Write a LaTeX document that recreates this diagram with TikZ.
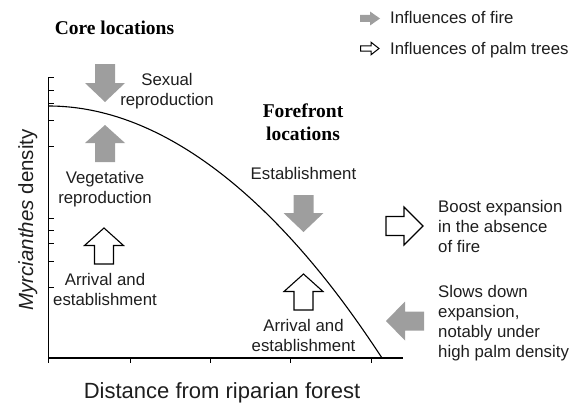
\documentclass[tikz,border=0pt]{standalone}
\usepackage{fontspec}
\setmainfont{Liberation Sans}
\newfontfamily\timesfont{Liberation Serif}
\definecolor{firegray}{RGB}{158,158,158}
\definecolor{inkgray}{RGB}{30,30,30}
\tikzset{
  pics/barr/.style n args={4}{code={%
    \path[pic actions] (0,-#3) -- (#1-#2,-#3) -- (#1-#2,-#4) -- (#1,0) -- (#1-#2,#4) -- (#1-#2,#3) -- (0,#3) -- cycle;}},
  axisline/.style={line width=1.1pt, line join=miter},
  tickline/.style={line width=0.9pt},
  curveline/.style={line width=1.1pt},
  fire/.style={fill=firegray, draw=none},
  palm/.style={fill=white, draw=black, line width=1.1pt, line join=miter},
  txt/.style={inner sep=0pt, align=center, text=inkgray, font=\fontsize{16.8}{20}\selectfont},
  txtl/.style={txt, align=left},
  headtxt/.style={inner sep=0pt, align=center, text=black, font=\timesfont\bfseries\fontsize{19.5}{23}\selectfont},
}
\begin{document}
\begin{tikzpicture}[x=1pt,y=-1pt]
\useasboundingbox (0,0) rectangle (580,404);

% axes
\draw[axisline] (48.5,77) -- (48.5,358) -- (403,358);
\foreach \ty in {77,90,103,120,146,218,230,243,261,287}
  \draw[tickline] (48.5,\ty) -- ++(5,0);
\foreach \tx in {48.5,130,210,290.5,371}
  \draw[tickline] (\tx,358) -- ++(0,5);

% curve
\draw[curveline] (48.5,106) parabola (382,358);

% axis labels
\node[rotate=90, anchor=base, inner sep=0pt, text=inkgray, font=\fontsize{20.5}{24}\selectfont] (ylab) at (33,220) {\textit{Myrcianthes} density};
\node[anchor=base, inner sep=0pt, text=inkgray, font=\fontsize{22}{26}\selectfont] (xlab) at (222,398.5) {Distance from riparian forest};

% headings
\node[headtxt, anchor=base] (core) at (114.5,35) {Core locations};
\node[headtxt] (front) at (303,122) {Forefront\\locations};

% legend
\pic[fire, rotate=0] (legfire) at (360,18.5) {barr={20}{10}{3.5}{7}};
\pic[palm, line width=1pt] (legpalm) at (360.5,48.5) {barr={18.5}{8}{2.7}{6.3}};
\node[txt, anchor=base west] (legfiretxt) at (390,24) {Influences of fire};
\node[txt, anchor=base west] (legpalmtxt) at (390,54) {Influences of palm trees};

% core column
\pic[fire, rotate=-90] (sexarr) at (105,64) {barr={38}{19}{10}{20}};
\node[txt] (sex) at (167,91) {Sexual\\reproduction};
\pic[fire, rotate=90] (vegarr) at (105,162) {barr={37}{18}{10}{20}};
\node[txt] (veg) at (105,189.5) {Vegetative\\reproduction};
\pic[palm, rotate=90] (arrcarr) at (104,264) {barr={36}{17.5}{9.5}{19.5}};
\node[txt] (arrc) at (105,289) {Arrival and\\establishment};

% forefront column
\node[txt] (estf) at (303.5,173.5) {Establishment};
\pic[fire, rotate=-90] (estarr) at (303.5,195) {barr={37}{19}{10}{20}};
\pic[palm, rotate=90] (arrfarr) at (303.5,310) {barr={36}{17.5}{9.5}{19.5}};
\node[txt] (arrf) at (303.5,335) {Arrival and\\establishment};

% right side
\pic[palm] (boostarr) at (386,226) {barr={37}{19}{9.5}{19}};
\node[txtl, anchor=west] (boost) at (438,226) {Boost expansion\\in the absence\\of fire};
\pic[fire, rotate=180] (slowarr) at (424,321) {barr={38}{19}{9.5}{19.5}};
\node[txtl, anchor=west] (slow) at (438,323) {Slows down\\expansion,\\notably under\\high palm density};
\end{tikzpicture}
\end{document}
